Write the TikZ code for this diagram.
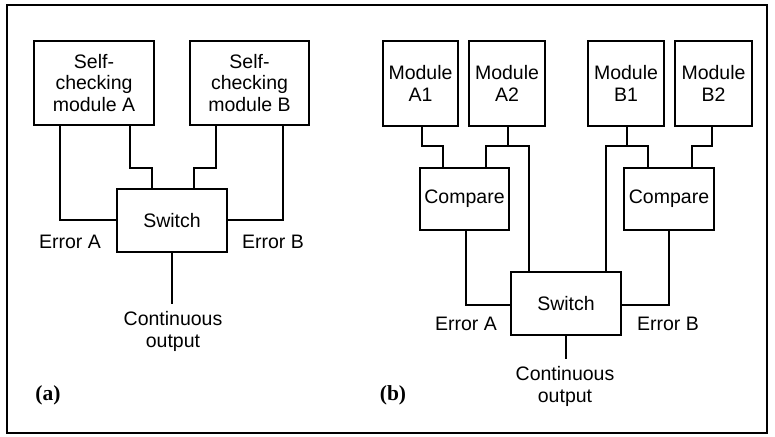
\documentclass[tikz,border=0pt]{standalone}
\usepackage{fontspec}
\setmainfont{Liberation Sans}
\newfontfamily\serifbold{Liberation Serif}
\begin{document}
\begin{tikzpicture}[x=1pt,y=-1pt,
  box/.style={draw, line width=2pt, inner sep=0pt, align=center, font=\fontsize{19.5}{21.7}\selectfont},
  wire/.style={line width=2pt},
  lbl/.style={align=center, inner sep=0pt, font=\fontsize{19.5}{21.7}\selectfont},
  tag/.style={inner sep=0pt, font=\serifbold\bfseries\fontsize{21.5}{24}\selectfont}]
\useasboundingbox (0,0) rectangle (775,436);
\draw[line width=2pt] (7,5) rectangle (767,433);

% ---------- panel (a)
\node[box, minimum width=120pt, minimum height=84pt] (A) at (94,83) {Self-\\checking\\module A};
\node[box, minimum width=119pt, minimum height=84pt] (B) at (249.5,83) {Self-\\checking\\module B};
\node[box, minimum width=110pt, minimum height=63pt] (SwA) at (172,220.5) {Switch};
\coordinate (OutA) at (172,304);

\draw[wire] (A.south -| 60,0) |- (SwA.west |- 0,220);
\draw[wire] (A.south -| 130,0) |- (152,168) -- (SwA.north -| 152,0);
\draw[wire] (B.south -| 216,0) |- (194,168) -- (SwA.north -| 194,0);
\draw[wire] (B.south -| 283,0) |- (SwA.east |- 0,220);
\draw[wire] (SwA.south) -- (OutA);

\node[lbl] (EA) at (70,242) {Error A};
\node[lbl] (EB) at (273,242) {Error B};
\node[lbl] (CA) at (173,331.5) {Continuous\\output};
\node[tag] (ta) at (48,395) {(a)};

% ---------- panel (b)
\node[box, minimum width=75pt, minimum height=85pt] (A1) at (420.5,83.5) {Module\\A1};
\node[box, minimum width=76pt, minimum height=85pt] (A2) at (507,83.5) {Module\\A2};
\node[box, minimum width=76pt, minimum height=85pt] (B1) at (626,83.5) {Module\\B1};
\node[box, minimum width=77pt, minimum height=85pt] (B2) at (713.5,83.5) {Module\\B2};
\node[box, minimum width=89pt, minimum height=62pt] (CmpA) at (464.5,199) {Compare};
\node[box, minimum width=90pt, minimum height=62pt] (CmpB) at (669,199) {Compare};
\node[box, minimum width=110pt, minimum height=63pt] (SwB) at (566,303.5) {Switch};
\coordinate (OutB) at (566,359);

\draw[wire] (A1.south -| 422,0) |- (443,146) -- (CmpA.north -| 443,0);
\draw[wire] (A2.south -| 508,0) -- (508,146);
\draw[wire] (CmpA.north -| 486,0) |- (529,146) -- (SwB.north -| 529,0);
\draw[wire] (B1.south -| 627,0) -- (627,146);
\draw[wire] (SwB.north -| 606,0) |- (648,146) -- (CmpB.north -| 648,0);
\draw[wire] (B2.south -| 712,0) |- (692,146) -- (CmpB.north -| 692,0);
\draw[wire] (CmpA.south -| 466,0) |- (SwB.west |- 0,305);
\draw[wire] (CmpB.south -| 669,0) |- (SwB.east |- 0,305);
\draw[wire] (SwB.south) -- (OutB);

\node[lbl] (EbA) at (466,324) {Error A};
\node[lbl] (EbB) at (668,324) {Error B};
\node[lbl] (CB) at (565,386.5) {Continuous\\output};
\node[tag] (tb) at (393,395) {(b)};
\end{tikzpicture}
\end{document}
